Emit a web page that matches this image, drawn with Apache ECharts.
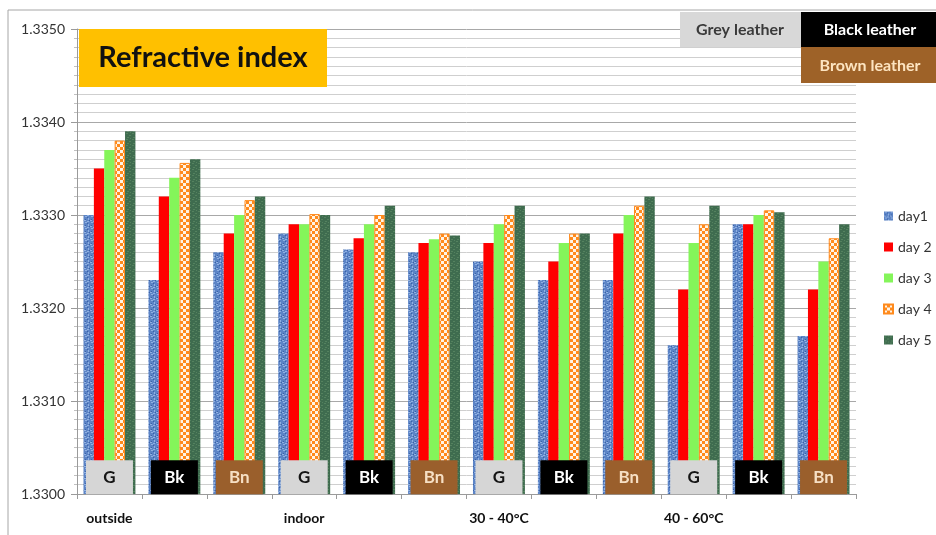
<!DOCTYPE html>
<html>
<head>
<meta charset="utf-8">
<script src="https://cdn.jsdelivr.net/npm/echarts@6/dist/echarts.min.js"></script>
<style>
  html, body { margin: 0; padding: 0; background: #fff; }
  #chart { width: 936px; height: 535px; }
</style>
</head>
<body>
<div id="chart"></div>
<script>
// conditions and leather types (x axis)
var conditions = ['outside', 'indoor', '30 - 40°C', '40 - 60°C'];
var leathers = ['G', 'Bk', 'Bn'];
var dayNames = ['day1', 'day 2', 'day 3', 'day 4', 'day 5'];

// refractive index, order: G, Bk, Bn for each condition
var day1 = [1.3330, 1.3323, 1.3326, 1.3328, 1.33263, 1.3326, 1.3325, 1.3323, 1.3323, 1.3316, 1.3329, 1.3317];
var day2 = [1.3335, 1.3332, 1.3328, 1.3329, 1.33275, 1.3327, 1.3327, 1.3325, 1.3328, 1.3322, 1.3329, 1.3322];
var day3 = [1.3337, 1.3334, 1.3330, 1.3329, 1.3329, 1.33274, 1.3329, 1.3327, 1.3330, 1.3327, 1.3330, 1.3325];
var day4 = [1.3338, 1.33356, 1.33316, 1.33301, 1.3330, 1.3328, 1.3330, 1.3328, 1.3331, 1.3329, 1.33305, 1.33275];
var day5 = [1.3339, 1.3336, 1.3332, 1.3330, 1.3331, 1.33278, 1.3331, 1.3328, 1.3332, 1.3331, 1.33303, 1.3329];

var yTicks = [1.3300, 1.3310, 1.3320, 1.3330, 1.3340, 1.3350];

var categories = [];
for (var c = 0; c < conditions.length; c++) {
  for (var l = 0; l < leathers.length; l++) {
    categories.push(conditions[c] + '|' + leathers[l]);
  }
}

// small canvas textures for the patterned bars
function makePattern(size, draw) {
  var cv = document.createElement('canvas');
  cv.width = size; cv.height = size;
  var ctx = cv.getContext('2d');
  draw(ctx);
  return { image: cv, repeat: 'repeat' };
}
var bluePattern = makePattern(6, function (ctx) {
  ctx.fillStyle = '#5c84c6'; ctx.fillRect(0, 0, 6, 6);
  ctx.fillStyle = '#90b1e2';
  ctx.fillRect(1, 0, 2, 1); ctx.fillRect(4, 2, 1, 2); ctx.fillRect(0, 4, 2, 1); ctx.fillRect(3, 5, 2, 1);
  ctx.fillStyle = '#3b62a6';
  ctx.fillRect(3, 1, 1, 1); ctx.fillRect(1, 3, 1, 1); ctx.fillRect(5, 4, 1, 1);
});
var checkPattern = makePattern(6, function (ctx) {
  ctx.fillStyle = '#ff8a1c'; ctx.fillRect(0, 0, 6, 6);
  ctx.fillStyle = '#fff4e6';
  ctx.fillRect(0, 0, 3, 3); ctx.fillRect(3, 3, 3, 3);
});
var greenPattern = makePattern(6, function (ctx) {
  ctx.fillStyle = '#3f6c4f'; ctx.fillRect(0, 0, 6, 6);
  ctx.fillStyle = '#55825f';
  ctx.fillRect(0, 1, 2, 1); ctx.fillRect(3, 3, 2, 1); ctx.fillRect(4, 0, 1, 1); ctx.fillRect(1, 5, 2, 1);
});

var dayData = [day1, day2, day3, day4, day5];
var dayFill = [bluePattern, '#ff0000', '#84f55a', checkPattern, greenPattern];
var dayBorder = ['#5c84c6', '#ff0000', '#84f55a', '#ff8a1c', '#3f6c4f'];

var series = [];
for (var d = 0; d < dayData.length; d++) {
  series.push({
    name: dayNames[d],
    type: 'bar',
    data: dayData[d],
    barGap: '0%',
    barCategoryGap: '20%',
    itemStyle: { color: dayFill[d], borderColor: dayBorder[d], borderWidth: d === 3 ? 1 : 0 }
  });
}

// leather tag boxes at the foot of each group
var tagFill = { G: '#d6d6d6', Bk: '#000000', Bn: '#9a5f2c' };
var tagText = { G: '#151515', Bk: '#ffffff', Bn: '#f6dfc4' };
var labelY = 1.33018;
var tagData = categories.map(function (cat, i) {
  var lt = leathers[i % 3];
  return {
    value: [i, labelY],
    itemStyle: { color: tagFill[lt], opacity: 1 },
    label: { formatter: lt, color: tagText[lt] }
  };
});
series.push({
  name: 'tags',
  type: 'scatter',
  symbol: 'rect',
  symbolSize: [47, 34],
  z: 5,
  silent: true,
  itemStyle: { opacity: 1 },
  data: tagData,
  label: { show: true, position: 'inside', fontFamily: 'Lato', fontWeight: 'bold', fontSize: 17 }
});

var chart = echarts.init(document.getElementById('chart'));
var option = {
  backgroundColor: '#ffffff',
  animation: false,
  textStyle: { fontFamily: 'Lato' },
  grid: { left: 77, right: 80, top: 29, bottom: 41 },
  legend: {
    data: dayNames,
    orient: 'vertical',
    left: 878,
    top: 204,
    itemWidth: 9,
    itemHeight: 9,
    itemGap: 17,
    icon: 'rect',
    textStyle: { fontSize: 14, color: '#333', fontFamily: 'Lato' }
  },
  xAxis: {
    type: 'category',
    data: categories,
    axisLine: { lineStyle: { color: '#9a9a9a' } },
    axisTick: { show: true, length: 5, lineStyle: { color: '#9a9a9a' } },
    axisLabel: {
      interval: 0,
      margin: 17,
      color: '#111',
      fontWeight: 'bold',
      fontSize: 14,
      fontFamily: 'Lato',
      formatter: function (v, i) { return i % 3 === 0 ? v.split('|')[0] : ''; }
    }
  },
  yAxis: {
    type: 'value',
    min: yTicks[0],
    max: yTicks[yTicks.length - 1],
    interval: 0.001,
    startValue: yTicks[0],
    axisLine: { show: true, lineStyle: { color: '#9a9a9a' } },
    axisTick: { show: true, length: 6, lineStyle: { color: '#9a9a9a' } },
    axisLabel: {
      margin: 12,
      color: '#333',
      fontSize: 14,
      fontFamily: 'Lato',
      formatter: function (v) { return v.toFixed(4); }
    },
    splitLine: { show: true, lineStyle: { color: '#a8a8a8' } },
    minorTick: { show: true, splitNumber: 10, length: 3, lineStyle: { color: '#c0c0c0' } },
    minorSplitLine: { show: true, lineStyle: { color: '#cfcfcf' } }
  },
  graphic: [
    { type: 'rect', shape: { x: 8, y: 10, width: 940, height: 540 }, style: { fill: 'none', stroke: '#a6a6a6', lineWidth: 1 }, z: 0 },
    { type: 'rect', shape: { x: 79, y: 29, width: 248, height: 58 }, style: { fill: '#ffc000' }, z: 10 },
    { type: 'text', x: 203, y: 58, style: { text: 'Refractive index', fill: '#111', font: 'bold 29px Lato', textAlign: 'center', textVerticalAlign: 'middle' }, z: 11 },
    { type: 'rect', shape: { x: 680, y: 12, width: 121, height: 35 }, style: { fill: '#d8d8d8' }, z: 10 },
    { type: 'text', x: 740, y: 30, style: { text: 'Grey leather', fill: '#3a3a3a', font: 'bold 16px Lato', textAlign: 'center', textVerticalAlign: 'middle' }, z: 11 },
    { type: 'rect', shape: { x: 801, y: 12, width: 135, height: 35 }, style: { fill: '#000000' }, z: 10 },
    { type: 'text', x: 870, y: 30, style: { text: 'Black leather', fill: '#ffffff', font: 'bold 16px Lato', textAlign: 'center', textVerticalAlign: 'middle' }, z: 11 },
    { type: 'rect', shape: { x: 801, y: 47, width: 135, height: 36 }, style: { fill: '#9e6228' }, z: 10 },
    { type: 'text', x: 870, y: 66, style: { text: 'Brown leather', fill: '#fde4c0', font: 'bold 16px Lato', textAlign: 'center', textVerticalAlign: 'middle' }, z: 11 }
  ],
  series: series
};
chart.setOption(option);
</script>
</body>
</html>
